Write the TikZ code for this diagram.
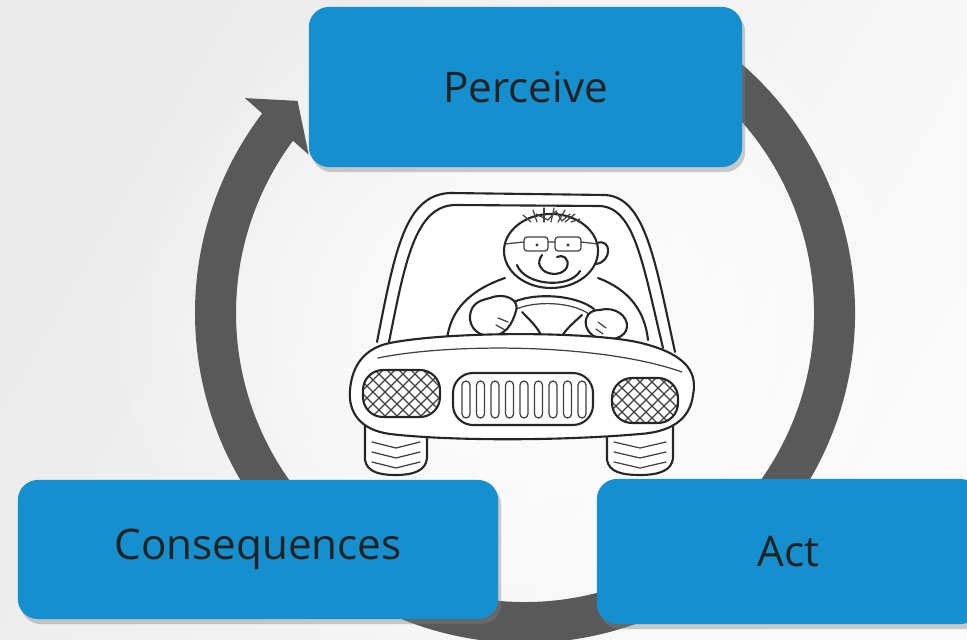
\documentclass[tikz,border=0pt]{standalone}
\usepackage{fontspec}
\setmainfont{Open Sans}
\usetikzlibrary{calc,shadows,fadings,positioning}
\definecolor{boxblue}{HTML}{168FCE}
\definecolor{ringgray}{HTML}{595959}
\definecolor{txtgray}{HTML}{222222}
\tikzfading[name = glow, inner color = transparent!0, outer color = transparent!100]

\begin{document}
\begin{tikzpicture}[x=0.01cm, y=-0.01cm,
        mbox/.style = {fill = boxblue, rounded corners = 0.2cm, inner sep = 0pt, text = txtgray,
                       font = \fontsize{12}{14}\selectfont,
                       drop shadow = {shadow xshift = 0.03cm, shadow yshift = -0.05cm, opacity = 0.4}},
        mring/.style = {draw = ringgray, line width = 0.41cm},
        mline/.style = {black!85, line width = 0.6pt, line cap = round, line join = round},
        mthin/.style = {black!75, line width = 0.35pt, line cap = round, line join = round}
        ]
        \useasboundingbox (0,0) rectangle (967,640);
        \clip (0,0) rectangle (967,640);
        \shade[left color = black!8, right color = black!2, shading angle = 60] (0,0) rectangle (967,640);
        \fill[white, path fading = glow, fill opacity = 0.9] (525,330) ellipse [x radius = 430, y radius = 380];

        % cycle ring with its head
        \coordinate (O) at (525,313);
        \draw[mring] ($(O)+(-60:309.5)$) arc[start angle = -60, end angle = 218, radius = 309.5];
        \fill[ringgray] ($(O)+(-142.5:353)$) -- ($(O)+(-137:311)$) -- ($(O)+(-143.8:268)$) -- cycle;

        % the car
        \fill[white] (377,342) .. controls (395,250) and (405,195) .. (450,193) -- (605,195)
            .. controls (645,197) and (655,260) .. (675,352) -- cycle;
        \draw[mline] (377,342) .. controls (395,250) and (405,195) .. (450,193) -- (605,195)
            .. controls (645,197) and (655,260) .. (675,352);
        \draw[mline] (389,342) .. controls (405,262) and (415,206) .. (455,205) -- (600,206)
            .. controls (635,208) and (643,265) .. (663,348);

        % driver
        \draw[mline] (447,340) .. controls (450,310) and (470,290) .. (505,278);
        \draw[mline] (598,278) .. controls (630,290) and (645,312) .. (648,340);
        \draw[mline, fill = white] (551,251) ellipse [x radius = 47, y radius = 37];
        \draw[mline] (597,243) .. controls (612,238) and (612,262) .. (596,264);
        \foreach \x/\dx/\dy in {531/-8/-7, 537/-4/-12, 544/0/-14, 551/3/-14, 558/7/-12, 565/10/-8, 571/9/-3}
            \draw[mthin] (\x,222) -- ++(\dx,\dy);
        \draw[mthin] (536,214) -- (548,220) -- (556,211) -- (562,221) -- (570,214);
        \draw[mthin, rounded corners = 0.03cm] (524,237) rectangle (548,251);
        \draw[mthin, rounded corners = 0.03cm] (555,237) rectangle (581,251);
        \draw[mthin] (548,242) -- (555,242) (524,242) -- (505,244) (581,242) -- (598,244);
        \fill[black!80] (537,245) circle [radius = 1.6] (568,245) circle [radius = 1.6];
        \draw[mline] (542,255) .. controls (530,272) and (560,281) .. (567,267) .. controls (570,258) and (562,254) .. (557,257);
        \draw[mline] (517,265) .. controls (525,286) and (570,289) .. (580,271);

        % steering wheel and hands
        \draw[mline] (510,304) .. controls (530,292) and (575,294) .. (594,309);
        \draw[mthin] (514,310) .. controls (535,300) and (572,302) .. (589,314);
        \draw[mline] (522,312) .. controls (532,322) and (540,330) .. (543,340);
        \draw[mline] (582,315) .. controls (572,324) and (563,332) .. (560,340);
        \draw[mline, fill = white] (490,298) .. controls (505,292) and (520,300) .. (516,311)
            .. controls (512,325) and (505,336) .. (490,336) .. controls (474,336) and (467,322) .. (471,311)
            .. controls (474,302) and (482,300) .. (490,298) -- cycle;
        \draw[mthin] (498,318) -- (508,322) (496,325) -- (505,330);
        \draw[mline, fill = white] (600,310) .. controls (615,306) and (628,316) .. (627,327)
            .. controls (626,338) and (610,342) .. (598,338) .. controls (586,334) and (583,322) .. (588,315)
            .. controls (591,311) and (595,310) .. (600,310) -- cycle;
        \draw[mthin] (598,322) -- (606,328) (596,329) -- (603,334);

        % wheels
        \draw[mline, fill = white] (365,425) -- (365,460) .. controls (367,472) and (380,475) .. (395,475)
            .. controls (415,475) and (426,470) .. (427,458) -- (427,425);
        \draw[mline, fill = white] (607,425) -- (607,460) .. controls (609,472) and (622,475) .. (640,475)
            .. controls (660,475) and (672,470) .. (673,458) -- (673,425);
        \foreach \y in {442,452,462}{
            \draw[mthin] (372,\y) -- (396,\y+6) -- (420,\y);
            \draw[mthin] (614,\y) -- (640,\y+6) -- (666,\y);
        }

        % hood, lamps and grille
        \draw[mline, fill = white] (390,343) .. controls (450,331) and (600,331) .. (645,344)
            .. controls (690,356) and (697,375) .. (693,395) .. controls (690,420) and (670,432) .. (640,434)
            .. controls (560,441) and (450,441) .. (390,434) .. controls (360,430) and (348,412) .. (350,390)
            .. controls (352,365) and (365,348) .. (390,343) -- cycle;
        \draw[mthin] (378,358) .. controls (450,343) and (600,343) .. (682,372);

        \foreach \xa/\ya/\xb/\yb in {363/370/440/417, 612/378/678/423}{
            \begin{scope}
                \clip[rounded corners = 0.2cm] (\xa,\ya) rectangle (\xb,\yb);
                \foreach \k in {-60,-48,...,84}{
                    \draw[mthin] (\xa+\k,\ya) -- ++(60,60);
                    \draw[mthin] (\xa+\k+20,\ya+60) -- ++(60,-60);
                }
            \end{scope}
            \draw[mline, rounded corners = 0.2cm] (\xa,\ya) rectangle (\xb,\yb);
        }

        \draw[mline, rounded corners = 0.2cm] (453,373) rectangle (593,425);
        \foreach \i in {0,...,8}
            \draw[mthin, rounded corners = 0.04cm] (462+14.5*\i,381) rectangle (470+14.5*\i,418);

        % the three steps
        \node[mbox, minimum width = 4.33cm, minimum height = 1.6cm] (Pe) at (525.5,87) {Perceive};
        \node[mbox, minimum width = 4.8cm, minimum height = 1.39cm] (Co) at (258,549.5) {Consequences};
        \node[mbox, minimum width = 3.83cm, minimum height = 1.45cm] (Ac) at (788.5,551.5) {Act};

    \end{tikzpicture}
\end{document}
